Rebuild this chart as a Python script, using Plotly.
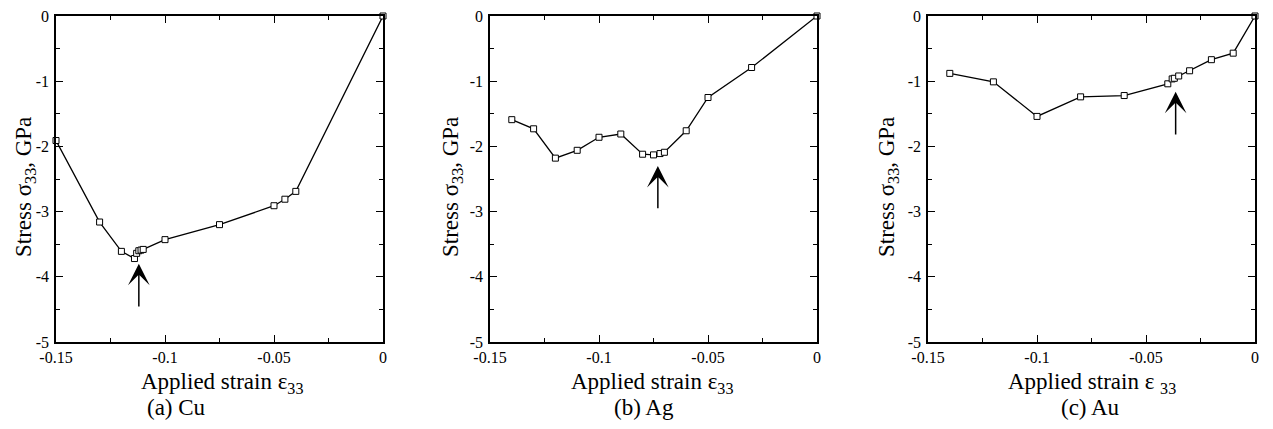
import plotly.graph_objects as go
from plotly.subplots import make_subplots

W, H = 1273, 429

# Stress-strain data for the three metals
cu_strain = [-0.15, -0.13, -0.12, -0.114, -0.113, -0.112, -0.111, -0.110,
             -0.10, -0.075, -0.05, -0.045, -0.04, 0.0]
cu_stress = [-1.91, -3.16, -3.61, -3.72, -3.64, -3.60, -3.59, -3.58,
             -3.43, -3.20, -2.91, -2.81, -2.69, 0.0]

ag_strain = [-0.14, -0.13, -0.12, -0.11, -0.10, -0.09, -0.08, -0.075,
             -0.072, -0.07, -0.06, -0.05, -0.03, 0.0]
ag_stress = [-1.59, -1.73, -2.18, -2.06, -1.86, -1.81, -2.12, -2.13,
             -2.11, -2.09, -1.76, -1.25, -0.79, 0.0]

au_strain = [-0.14, -0.12, -0.10, -0.08, -0.06, -0.04, -0.038, -0.037,
             -0.035, -0.03, -0.02, -0.01, 0.0]
au_stress = [-0.88, -1.01, -1.54, -1.24, -1.22, -1.04, -0.965, -0.955,
             -0.92, -0.84, -0.67, -0.57, 0.0]

# Arrow markers: strain position, tip stress, tail stress
arrow_strain = [-0.112, -0.073, -0.0364]
arrow_tip = [-3.80, -2.30, -1.16]
arrow_tail = [-4.48, -2.97, -1.84]

captions = ["(a) Cu", "(b) Ag", "(c) Au"]
x_titles = ["Applied strain ε<sub>33</sub>", "Applied strain ε<sub>33</sub>",
            "Applied strain ε <sub>33</sub>"]
y_title = "Stress σ<sub>33</sub>, GPa"

x_tickvals = [-0.15, -0.1, -0.05, 0]
x_ticktext = ["-0.15", "-0.1", "-0.05", "0"]
y_tickvals = [0, -1, -2, -3, -4, -5]
y_ticktext = ["0", "-1", "-2", "-3", "-4", "-5"]

FONT = "Liberation Serif"

# panel placement in pixels (left, right), shared top/bottom
panels_px = [(56, 383), (490, 817), (928, 1255)]
top_px, bot_px = 16, 342


def px_x(p):
    return p / W


def px_y(p):
    return 1 - p / H


fig = make_subplots(rows=1, cols=3)

series = [(cu_strain, cu_stress), (ag_strain, ag_stress), (au_strain, au_stress)]
for i, (xs, ys) in enumerate(series):
    fig.add_trace(
        go.Scatter(
            x=xs, y=ys, mode="lines+markers",
            line=dict(color="black", width=1.3),
            marker=dict(symbol="square", size=6, color="white",
                        line=dict(color="black", width=1)),
            cliponaxis=False, showlegend=False,
        ),
        row=1, col=i + 1,
    )

for i, (l, r) in enumerate(panels_px):
    fig.update_xaxes(
        domain=[px_x(l), px_x(r)], range=[-0.15, 0],
        tickmode="array", tickvals=x_tickvals, ticktext=x_ticktext,
        row=1, col=i + 1,
    )
    fig.update_yaxes(
        domain=[px_y(bot_px), px_y(top_px)], range=[-5, 0],
        tickmode="array", tickvals=y_tickvals, ticktext=y_ticktext,
        row=1, col=i + 1,
    )

    xref = "x" if i == 0 else f"x{i + 1}"
    yref = "y" if i == 0 else f"y{i + 1}"

    # arrow pointing at the marked point
    fig.add_annotation(
        x=arrow_strain[i], y=arrow_tip[i], ax=arrow_strain[i], ay=arrow_tail[i],
        xref=xref, yref=yref, axref=xref, ayref=yref,
        text="", showarrow=True, arrowhead=3, arrowsize=2.4,
        arrowwidth=1.5, arrowcolor="black", standoff=0,
    )

frame = dict(
    showline=True, linecolor="black", linewidth=1.5, mirror="ticks",
    ticks="inside", ticklen=7, tickwidth=1.3, tickcolor="black",
    showgrid=False, zeroline=False, automargin=False,
    tickfont=dict(family=FONT, size=16, color="black"),
)
fig.update_xaxes(
    **frame,
    minor=dict(ticks="inside", ticklen=4.5, tickwidth=1.2,
               tickcolor="black", dtick=0.025, tick0=0),
)
fig.update_yaxes(
    **frame,
    ticklabelstandoff=2,
    minor=dict(ticks="inside", ticklen=4.5, tickwidth=1.2,
               tickcolor="black", dtick=0.5, tick0=0),
)

# axis titles and captions
ytitle_x = [25, 452, 888]
xtitle_x = [222, 652, 1092]
caption_x = [177, 644, 1090]
for i in range(3):
    fig.add_annotation(
        x=px_x(ytitle_x[i]), y=px_y(187), xref="paper", yref="paper",
        text=y_title, textangle=-90, showarrow=False,
        xanchor="center", yanchor="middle",
        font=dict(family=FONT, size=23, color="black"),
    )
    fig.add_annotation(
        x=px_x(xtitle_x[i]), y=px_y(383), xref="paper", yref="paper",
        text=x_titles[i], showarrow=False,
        xanchor="center", yanchor="middle",
        font=dict(family=FONT, size=23, color="black"),
    )
    fig.add_annotation(
        x=px_x(caption_x[i]), y=px_y(407), xref="paper", yref="paper",
        text=captions[i], showarrow=False,
        xanchor="center", yanchor="middle",
        font=dict(family=FONT, size=23, color="black"),
    )

fig.update_layout(
    width=W, height=H,
    margin=dict(l=0, r=0, t=0, b=0),
    paper_bgcolor="white", plot_bgcolor="white",
    font=dict(family=FONT, size=16, color="black"),
)

fig.write_html("out.html")
